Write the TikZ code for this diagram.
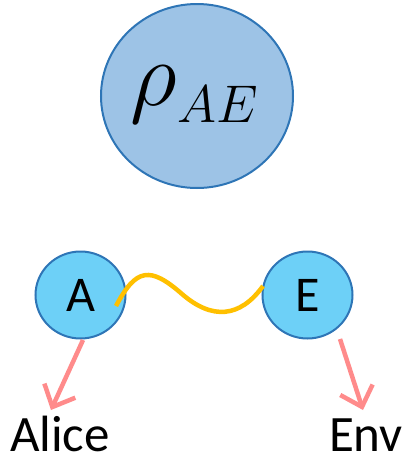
\documentclass[tikz,border=0pt]{standalone}
\usepackage{fix-cm}
\usepackage{fontspec}
\setmainfont{Carlito}
\usetikzlibrary{arrows.meta,shapes.geometric}
\definecolor{bigfill}{HTML}{9DC3E6}
\definecolor{smallfill}{HTML}{6DD0F7}
\definecolor{edge}{HTML}{2E75B6}
\definecolor{wave}{HTML}{FFC000}
\definecolor{pinkarrow}{HTML}{FF8B8B}
\tikzset{
  bigstate/.style={ellipse, draw=edge, line width=2pt, fill=bigfill, minimum width=192pt, minimum height=184pt, inner sep=0pt},
  party/.style={ellipse, draw=edge, line width=2pt, fill=smallfill, minimum width=90pt, minimum height=87pt, inner sep=0pt, font=\fontsize{50}{56}\selectfont},
  label/.style={font=\fontsize{51}{56}\selectfont, inner sep=0pt, anchor=base},
  link/.style={wave, line width=4.5pt},
  outarrow/.style={pinkarrow, line width=4.5pt, -{Straight Barb[length=18pt,width=34pt,line width=4.5pt]}}
}
\begin{document}
\begin{tikzpicture}[x=1pt,y=-1pt]
\useasboundingbox (0,0) rectangle (406,459);
\node[bigstate] (rho) at (197,96) {};
\node[inner sep=0pt, anchor=base west] (rhotext) at (130,105) {\fontsize{92}{96}\selectfont$\rho$};
\node[inner sep=0pt, anchor=base west] (subtext) at (177,122) {\fontsize{53}{58}\selectfont$AE$};
\node[party] (A) at (80.5,295) {A};
\node[party] (E) at (307.5,295) {E};
\coordinate (w0) at (116,306);
\coordinate (w1) at (263,286);
\draw[link] (w0) .. controls (136,268) and (150,266) .. (182,294)
               .. controls (212,320) and (240,318) .. (w1);
\node[label] (alice) at (60,451) {Alice};
\node[label] (env) at (366,451) {Env};
\coordinate (a0) at (83,340);
\coordinate (a1) at (51,410);
\coordinate (e0) at (340,339);
\coordinate (e1) at (363,410);
\draw[outarrow] (a0) -- (a1);
\draw[outarrow] (e0) -- (e1);
\end{tikzpicture}
\end{document}
